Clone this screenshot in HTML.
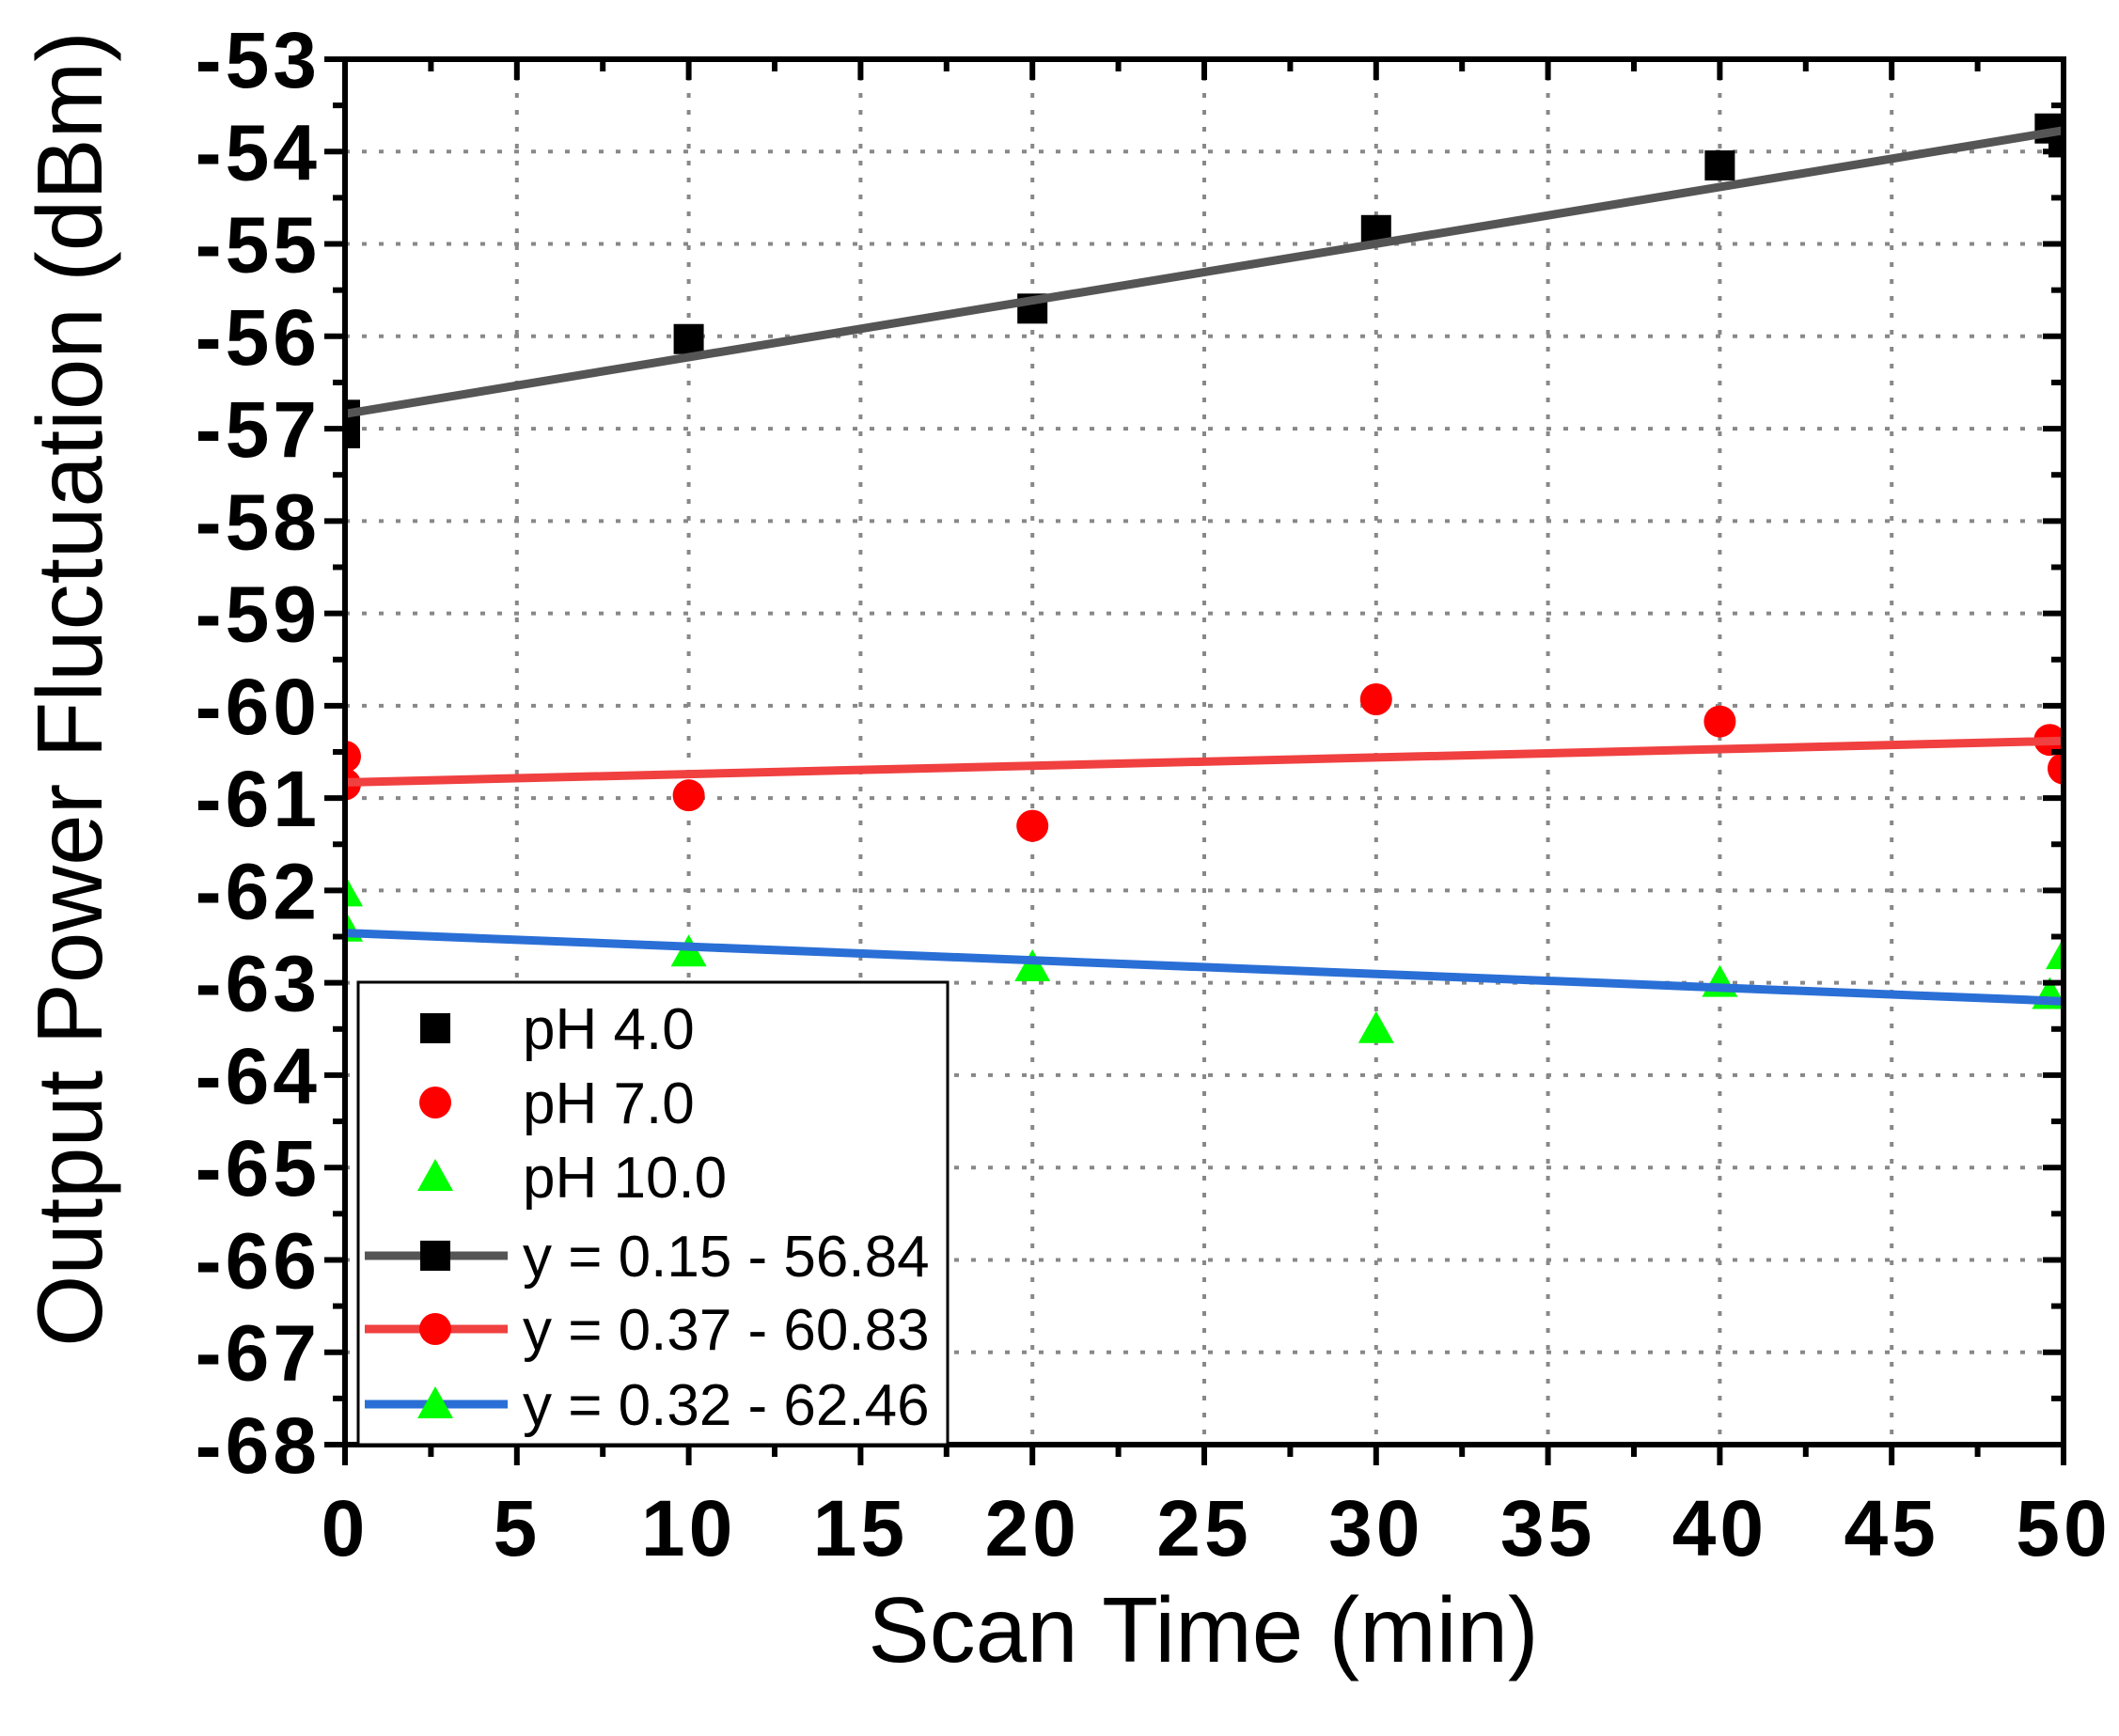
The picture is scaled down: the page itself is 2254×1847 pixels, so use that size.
<!DOCTYPE html>
<html><head><meta charset="utf-8"><style>
html,body{margin:0;padding:0;background:#fff;}
svg{display:block;font-family:"Liberation Sans",Arial,sans-serif;}
</style></head><body>
<svg id="s" width="2254" height="1847" viewBox="0 0 2254 1847" xmlns="http://www.w3.org/2000/svg">
<defs><clipPath id="c"><rect x="367" y="63" width="1828" height="1474"/></clipPath></defs>
<g id="grid"></g>
<g id="data" clip-path="url(#c)"></g>
<g id="axes"></g>
<g id="leg"></g>
<text x="1280" y="1768" font-size="98" text-anchor="middle">Scan Time (min)</text>
<text transform="translate(108,733) rotate(-90)" font-size="98" text-anchor="middle">Output Power Fluctuation (dBm)</text>
</svg>
<script>
const L=367,R=2195,T=63,B=1537;
const X=t=>L+t*(R-L)/50, Y=v=>T+(-53-v)*(B-T)/15;
let g='',a='',d='',lg='';
for(let t=5;t<50;t+=5){g+=`<line x1="${X(t)}" y1="${T}" x2="${X(t)}" y2="${B}" stroke="#888" stroke-width="4" stroke-dasharray="5,13"/>`;}
for(let v=-54;v>-68;v--){g+=`<line x1="${L}" y1="${Y(v)}" x2="${R}" y2="${Y(v)}" stroke="#888" stroke-width="4" stroke-dasharray="5,13"/>`;}
document.getElementById('grid').innerHTML=g;
for(let i=0;i<=20;i++){const t=i*2.5,x=X(t),maj=i%2==0,len=maj?22:13;
 a+=`<line x1="${x}" y1="${B}" x2="${x}" y2="${B+len}" stroke="#000" stroke-width="6"/>`;
 a+=`<line x1="${x}" y1="${T}" x2="${x}" y2="${T+len}" stroke="#000" stroke-width="6"/>`;
 if(maj)a+=`<text x="${x}" y="${B+118}" font-size="84" font-weight="bold" text-anchor="middle" letter-spacing="4">${t}</text>`;}
for(let i=0;i<=30;i++){const v=-53-i*0.5,y=Y(v),maj=i%2==0,len=maj?22:13;
 a+=`<line x1="${L-len}" y1="${y}" x2="${L}" y2="${y}" stroke="#000" stroke-width="6"/>`;
 a+=`<line x1="${R-len}" y1="${y}" x2="${R}" y2="${y}" stroke="#000" stroke-width="6"/>`;
 if(maj)a+=`<text x="${L-26}" y="${y+30}" font-size="84" font-weight="bold" text-anchor="end" letter-spacing="4">${v}</text>`;}
a+=`<rect x="${L}" y="${T}" width="${R-L}" height="${B-T}" fill="none" stroke="#000" stroke-width="6"/>`;
document.getElementById('axes').innerHTML=a;
const sq=(x,y,c)=>`<rect x="${x-16}" y="${y-16}" width="32" height="32" fill="${c}"/>`;
const ci=(x,y,c)=>`<circle cx="${x}" cy="${y}" r="17" fill="${c}"/>`;
const tr=(x,y,c)=>`<polygon points="${x},${y-19} ${x-19},${y+15} ${x+19},${y+15}" fill="${c}"/>`;
const S=[
 {m:sq,c:'#000',lc:'#555',pts:[[0,-56.85],[0,-57.05],[10,-56.03],[20,-55.7],[30,-54.85],[40,-54.15],[49.6,-53.75],[50,-53.9]],l:[-56.84,-53.77]},
 {m:ci,c:'#f00',lc:'#f04040',pts:[[0,-60.55],[0,-60.85],[10,-60.97],[20,-61.3],[30,-59.93],[40,-60.17],[49.6,-60.37],[50,-60.68]],l:[-60.83,-60.38]},
 {m:tr,c:'#0f0',lc:'#2a6fd6',pts:[[0,-62.02],[0,-62.4],[10,-62.67],[20,-62.83],[30,-63.5],[40,-63.0],[49.6,-63.13],[50,-62.7]],l:[-62.46,-63.2]}];
S.forEach(s=>{s.pts.forEach(p=>d+=s.m(X(p[0]),Y(p[1]),s.c));});
S.forEach(s=>{d+=`<line x1="${X(0)}" y1="${Y(s.l[0])}" x2="${X(50)}" y2="${Y(s.l[1])}" stroke="${s.lc}" stroke-width="9"/>`;});
document.getElementById('data').innerHTML=d;
lg+=`<rect x="381" y="1045" width="627" height="492" fill="#fff" stroke="#000" stroke-width="3"/>`;
const names=['pH 4.0','pH 7.0','pH 10.0','y = 0.15 - 56.84','y = 0.37 - 60.83','y = 0.32 - 62.46'];
const ys=[1094,1173,1252,1336,1414,1494];
names.forEach((n,i)=>{const s=S[i%3],y=ys[i];
 if(i>=3)lg+=`<line x1="388" y1="${y}" x2="540" y2="${y}" stroke="${s.lc}" stroke-width="9"/>`;
 lg+=s.m(463,y,s.c);
 lg+=`<text x="556" y="${y+22}" font-size="62">${n}</text>`;});
document.getElementById('leg').innerHTML=lg;
</script>
</body></html>
